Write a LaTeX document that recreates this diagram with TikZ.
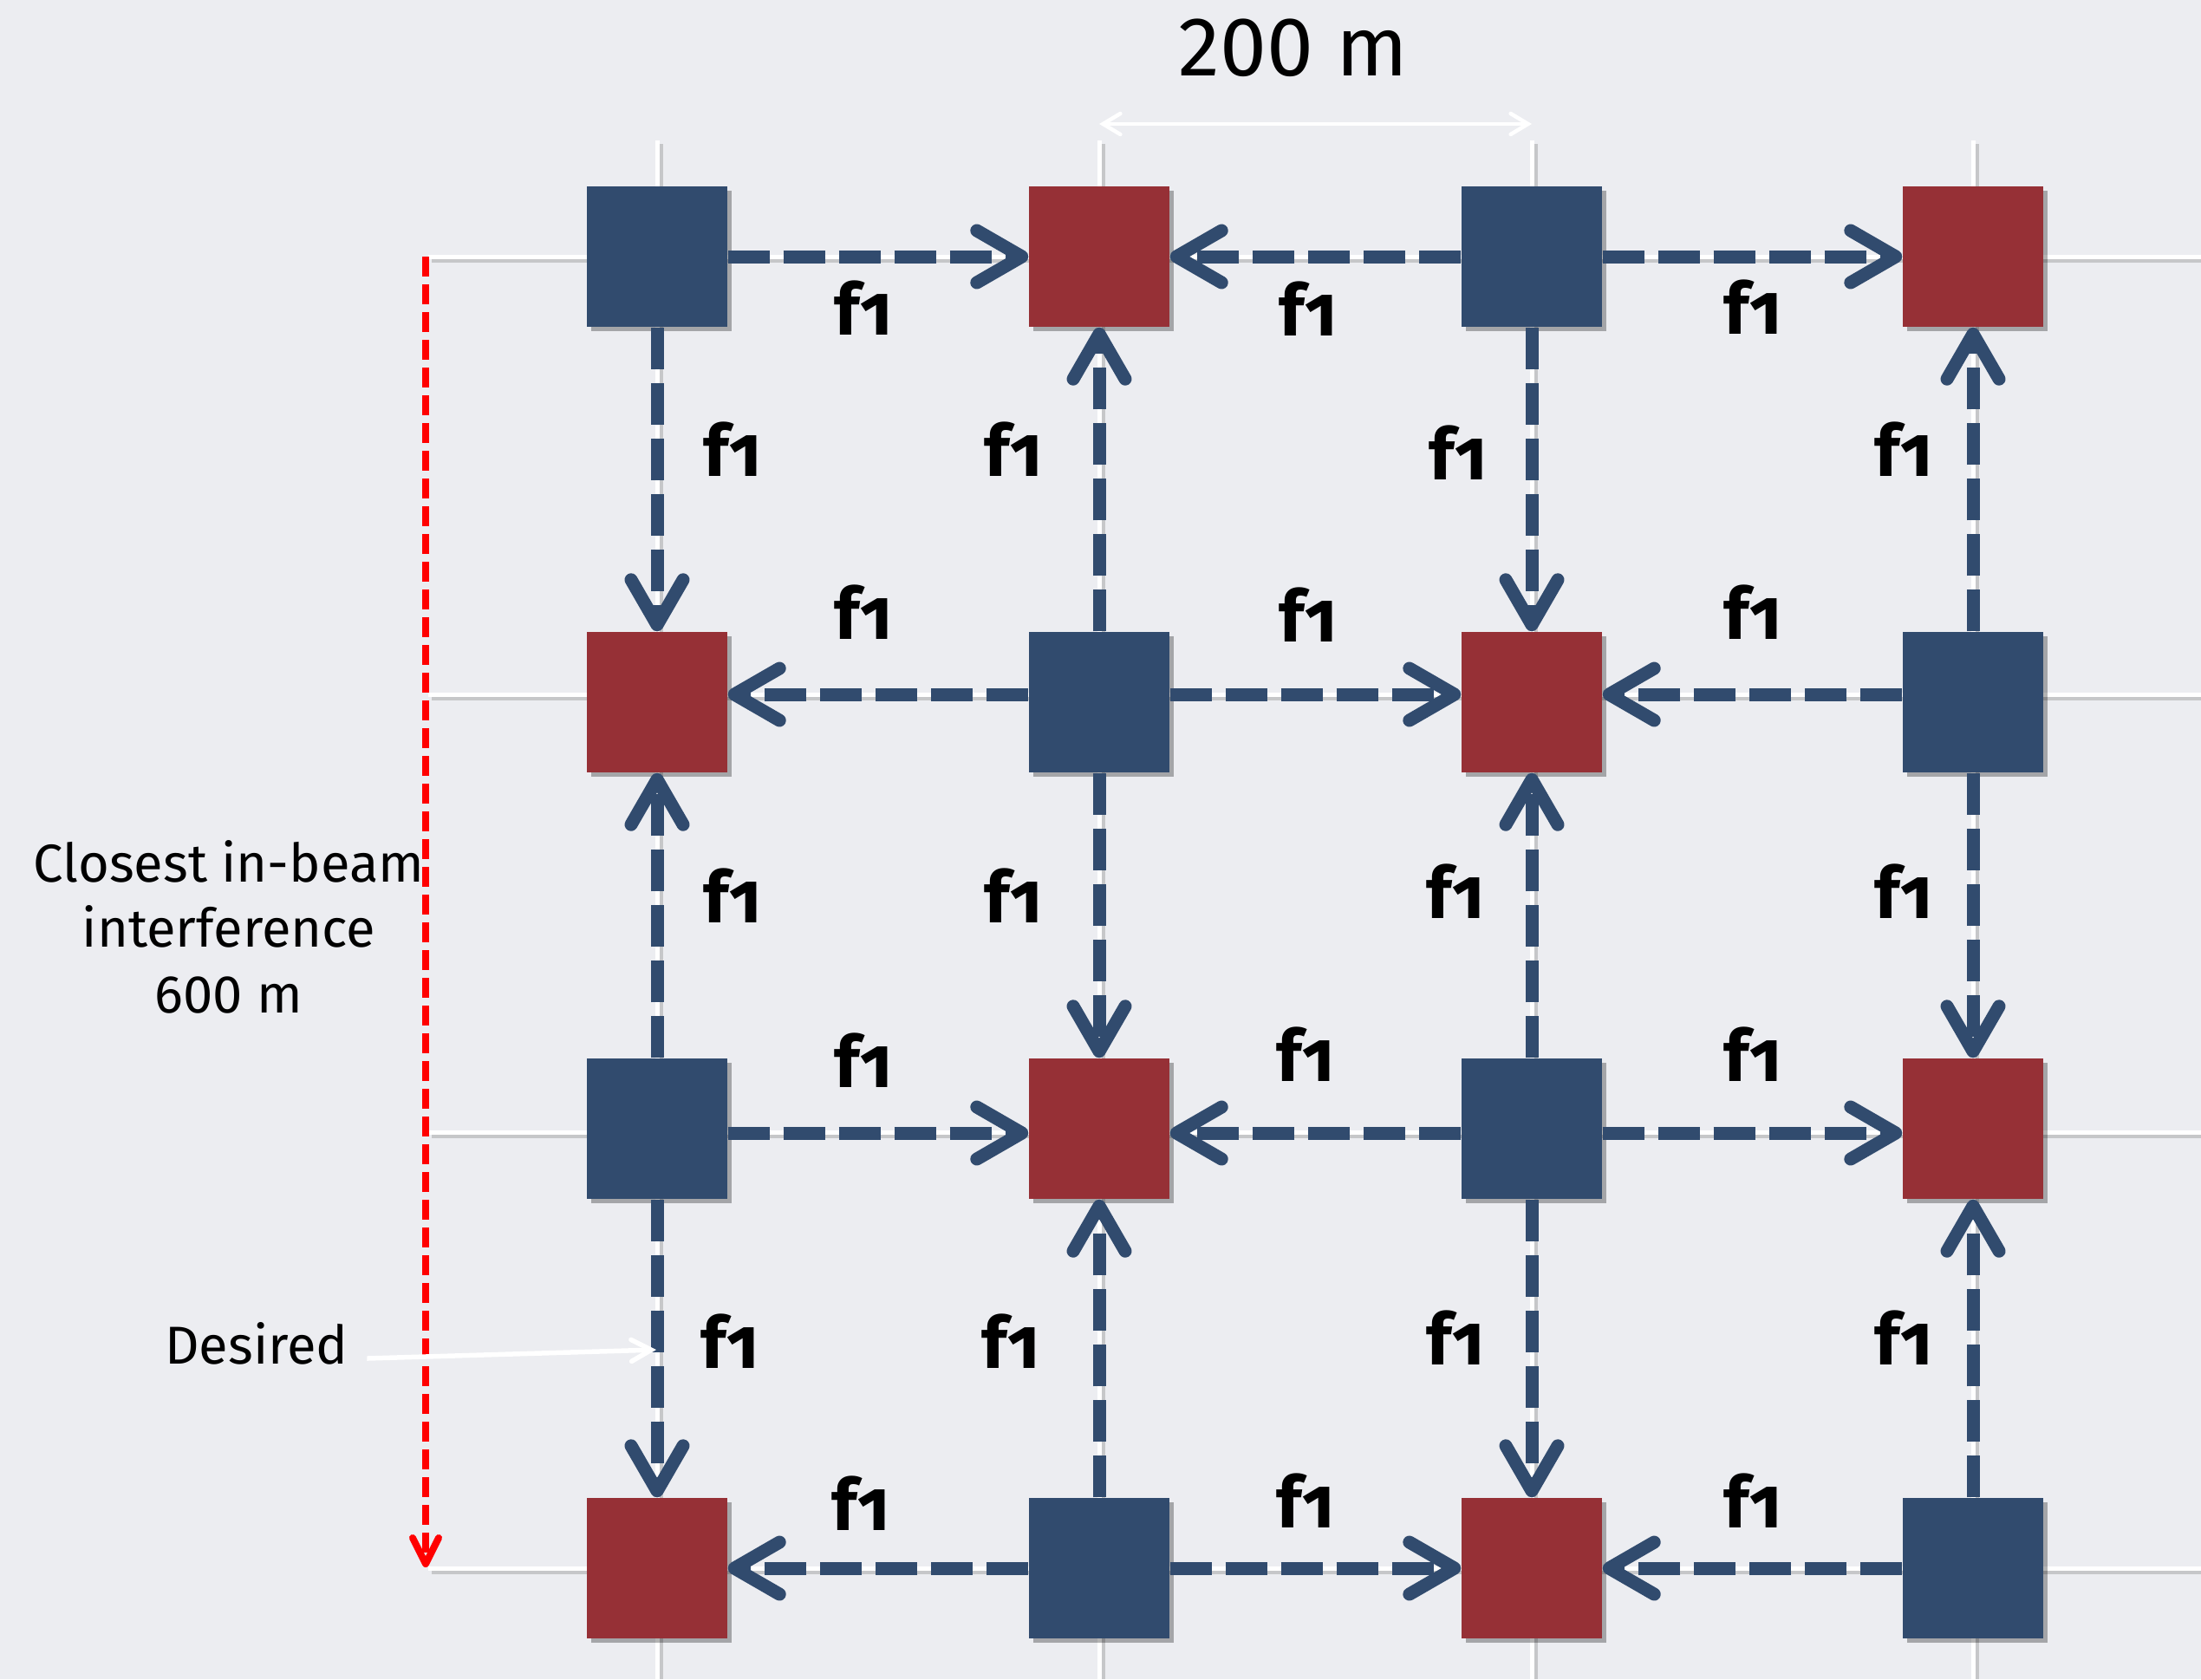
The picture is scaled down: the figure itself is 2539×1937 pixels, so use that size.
\documentclass[tikz,border=0pt]{standalone}
\usepackage{fontspec}
\setmainfont{Fira Sans}
\newfontfamily\lblfont[Numbers=OldStyle]{Fira Sans}
\usetikzlibrary{arrows.meta,shadows}
\definecolor{bg}{HTML}{ECEDF1}
\definecolor{nblue}{HTML}{314B6E}
\definecolor{nred}{HTML}{963036}
\tikzset{
  sq/.style={minimum size=16.2mm, inner sep=0pt, draw=none,
    drop shadow={shadow xshift=0.5mm,shadow yshift=-0.5mm,opacity=0.3,fill=black}},
  bsq/.style={sq, fill=nblue},
  rsq/.style={sq, fill=nred},
  link/.style={draw=nblue, line width=1.5mm, dash pattern=on 4.8mm off 1.6mm,
    -{Straight Barb[length=5.2mm,width=6mm,line cap=round,line join=round]}},
  lbl/.style={font=\lblfont\fontsize{23.5}{26}\selectfont\bfseries, anchor=base, inner sep=0pt},
  gridline/.style={white, line width=0.5mm},
  gridshadow/.style={black!40, line width=0.6mm, opacity=0.45},
  txt/.style={font=\fontsize{17.5}{21.4}\selectfont, inner sep=0pt},
}
\begin{document}
\begin{tikzpicture}[x=0.1mm,y=-0.1mm]
\fill[bg] (0,0) rectangle (2539,1937);
\path[use as bounding box] (0,0) rectangle (2539,1937);
% grid
\foreach \x in {758,1268,1767,2276} {
  \draw[gridshadow] (\x+4,166) -- (\x+4,1937);
  \draw[gridline] (\x,162) -- (\x,1937);
}
\foreach \y in {296,801,1306,1809} {
  \draw[gridshadow] (498,\y+4) -- (2539,\y+4);
  \draw[gridline] (494,\y) -- (2539,\y);
}
\coordinate (row2) at (0,801);
\coordinate (row3) at (0,1307);
% dimension
\coordinate (dimL) at (1268,143);
\coordinate (dimR) at (1767,143);
\draw[white, line width=0.45mm,
  {Straight Barb[length=2mm,width=2.4mm,line cap=round]}-{Straight Barb[length=2mm,width=2.4mm,line cap=round]}]
  (dimL) -- (dimR);
\node[font=\fontsize{27.5}{32}\selectfont, anchor=base, inner sep=0pt] (dimlabel) at (1492,87) {200 m};
% red distance arrow
\coordinate (rtop) at (491,296);
\coordinate (rbot) at (491,1808);
\draw[red, line width=0.8mm, dash pattern=on 2.3mm off 0.9mm,
  -{Straight Barb[length=3mm,width=3mm,line cap=round,line join=round]}] (rtop) -- (rbot);
\node[txt, align=center, anchor=north] (closest) at (264,969) {Closest in-beam\\interference\\600 m};
% squares
\foreach \y [count=\r] in {296,810,1302,1809} {
  \foreach \x [count=\c] in {758,1268,1767,2276} {
    \pgfmathtruncatemacro{\parity}{mod(\r+\c,2)}
    \ifnum\parity=0
      \node[bsq] (n\r\c) at (\x,\y) {};
    \else
      \node[rsq] (n\r\c) at (\x,\y) {};
    \fi
  }
}
% connectors (horizontal)
\draw[link] (n11) -- (n12);
\draw[link] (n13) -- (n12);
\draw[link] (n13) -- (n14);
\draw[link] (n22.west |- row2) -- (n21.east |- row2);
\draw[link] (n22.east |- row2) -- (n23.west |- row2);
\draw[link] (n24.west |- row2) -- (n23.east |- row2);
\draw[link] (n31.east |- row3) -- (n32.west |- row3);
\draw[link] (n33.west |- row3) -- (n32.east |- row3);
\draw[link] (n33.east |- row3) -- (n34.west |- row3);
\draw[link] (n42) -- (n41);
\draw[link] (n42) -- (n43);
\draw[link] (n44) -- (n43);
% connectors (vertical)
\draw[link] (n11) -- (n21);
\draw[link] (n22) -- (n12);
\draw[link] (n13) -- (n23);
\draw[link] (n24) -- (n14);
\draw[link] (n31) -- (n21);
\draw[link] (n22) -- (n32);
\draw[link] (n33) -- (n23);
\draw[link] (n24) -- (n34);
\draw[link] (n31) -- (n41);
\draw[link] (n42) -- (n32);
\draw[link] (n33) -- (n43);
\draw[link] (n44) -- (n34);
% labels
\node[lbl] (l1) at (996,386) {f1};
\node[lbl] (l2) at (1509,387) {f1};
\node[lbl] (l3) at (2022,385) {f1};
\node[lbl] (l4) at (845,549) {f1};
\node[lbl] (l5) at (1169,549) {f1};
\node[lbl] (l6) at (1682,553) {f1};
\node[lbl] (l7) at (2196,549) {f1};
\node[lbl] (l8) at (996,737) {f1};
\node[lbl] (l9) at (1509,740) {f1};
\node[lbl] (l10) at (2022,737) {f1};
\node[lbl] (l11) at (845,1064) {f1};
\node[lbl] (l12) at (1169,1064) {f1};
\node[lbl] (l13) at (1679,1059) {f1};
\node[lbl] (l14) at (2196,1059) {f1};
\node[lbl] (l15) at (996,1254) {f1};
\node[lbl] (l16) at (1506,1247) {f1};
\node[lbl] (l17) at (2022,1247) {f1};
\node[lbl] (l18) at (842,1578) {f1};
\node[lbl] (l19) at (1166,1578) {f1};
\node[lbl] (l20) at (1679,1574) {f1};
\node[lbl] (l21) at (2196,1574) {f1};
\node[lbl] (l22) at (993,1765) {f1};
\node[lbl] (l23) at (1506,1762) {f1};
\node[lbl] (l24) at (2022,1762) {f1};
% desired pointer
\node[txt, anchor=base] (desired) at (296,1573) {Desired};
\coordinate (dend) at (757,1557);
\draw[white, line width=0.55mm,
  -{Straight Barb[length=2.3mm,width=2.5mm,line cap=round]}]
  ([xshift=2.1mm,yshift=0.6mm]desired.base east) -- (dend);
\end{tikzpicture}
\end{document}
